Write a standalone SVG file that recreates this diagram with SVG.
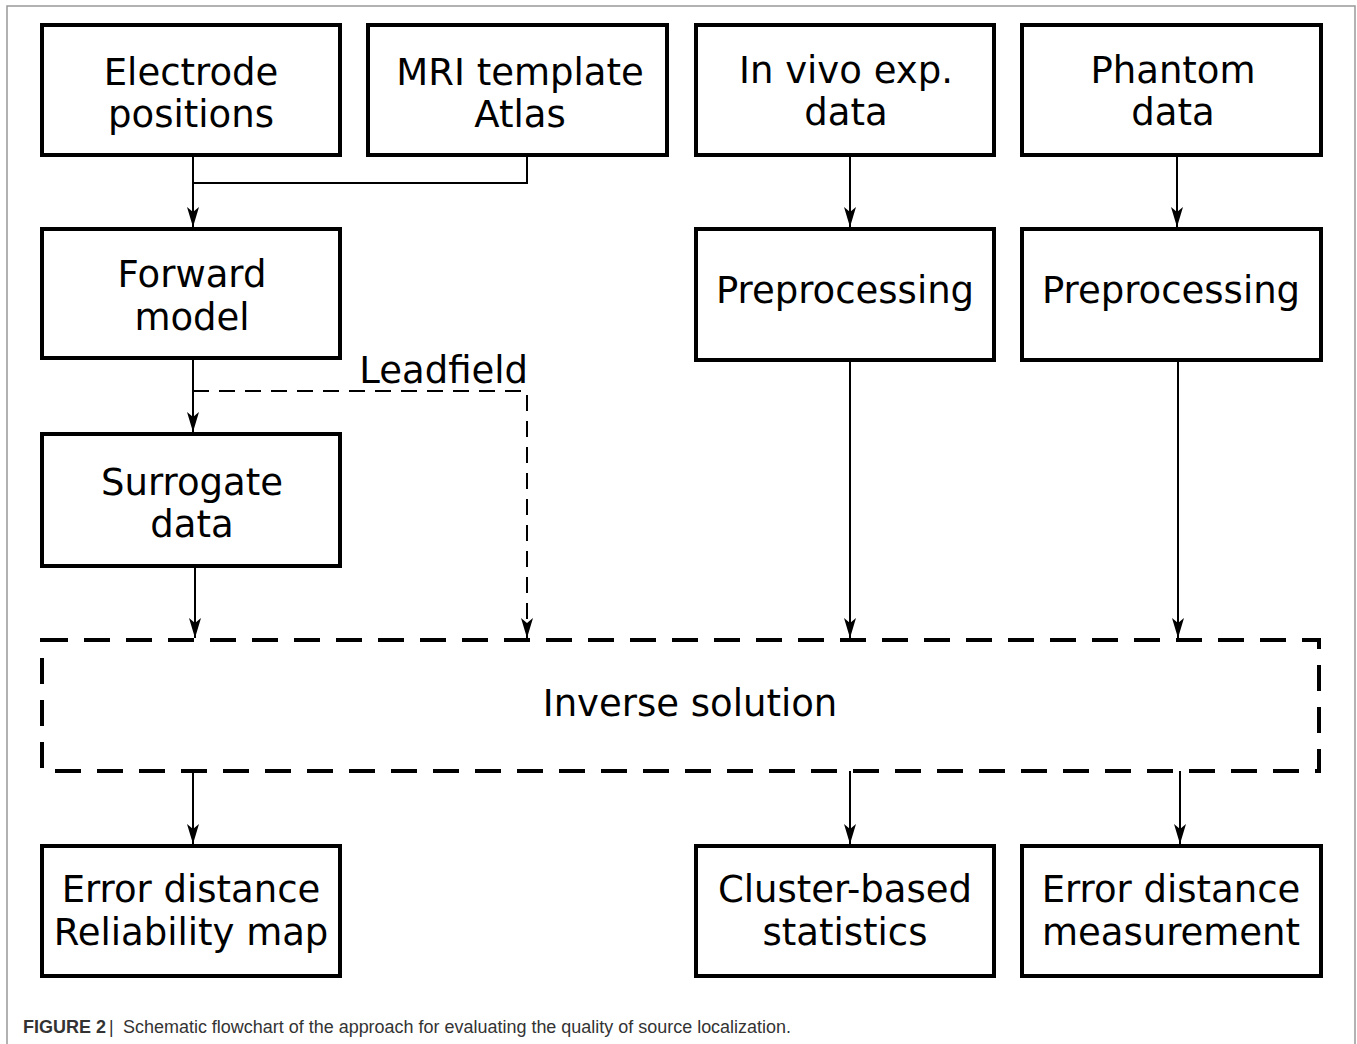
<svg xmlns="http://www.w3.org/2000/svg" width="1357" height="1044" viewBox="0 0 1357 1044">
<style>
.box{fill:#fff;stroke:#000;stroke-width:4}
.t{font-family:"DejaVu Sans",sans-serif;font-size:37px;fill:#000;text-anchor:middle}
.c{fill:none;stroke:#000;stroke-width:2}
.d{fill:none;stroke:#000;stroke-width:2;stroke-dasharray:16 10}
.inv{fill:none;stroke:#000;stroke-width:4;stroke-dasharray:26 16}
.cap{font-family:"Liberation Sans",Arial,sans-serif;font-size:17.5px;fill:#333}
</style>
<defs>
<marker id="ah" viewBox="-21 -7 22 14" markerWidth="22" markerHeight="14" refX="0" refY="0" orient="auto" markerUnits="userSpaceOnUse">
<path d="M0,0 L-20,-6 L-15,0 L-20,6 Z" fill="#000"/>
</marker>
</defs>
<rect x="0" y="0" width="1357" height="1044" fill="#fff"/>
<path d="M7,1044 V6 H1355 V1044" fill="none" stroke="#999" stroke-width="1.5"/>

<g id="connectors">
<path class="c" d="M193,155 V227" marker-end="url(#ah)"/>
<path class="c" d="M527,155 V183 H193"/>
<path class="c" d="M193,358 V432" marker-end="url(#ah)"/>
<path class="d" d="M193,391 H527 V638" marker-end="url(#ah)"/>
<path class="c" d="M195,566 V638" marker-end="url(#ah)"/>
<path class="c" d="M850,155 V227" marker-end="url(#ah)"/>
<path class="c" d="M1177,155 V227" marker-end="url(#ah)"/>
<path class="c" d="M850,360 V638" marker-end="url(#ah)"/>
<path class="c" d="M1178,360 V638" marker-end="url(#ah)"/>
<path class="c" d="M193,771 V844" marker-end="url(#ah)"/>
<path class="c" d="M850,771 V844" marker-end="url(#ah)"/>
<path class="c" d="M1180,771 V844" marker-end="url(#ah)"/>
<text class="t" x="528" y="383" style="text-anchor:end">Leadfield</text>
</g>

<g id="electrode"><rect class="box" x="42" y="25" width="298" height="130"/><text class="t" x="191" y="85">Electrode</text><text class="t" x="191" y="127">positions</text></g>
<g id="mri"><rect class="box" x="368" y="25" width="299" height="130"/><text class="t" x="520" y="85">MRI template</text><text class="t" x="520" y="127">Atlas</text></g>
<g id="invivo"><rect class="box" x="696" y="25" width="298" height="130"/><text class="t" x="846" y="83">In vivo exp.</text><text class="t" x="846" y="125">data</text></g>
<g id="phantom"><rect class="box" x="1022" y="25" width="299" height="130"/><text class="t" x="1173" y="83">Phantom</text><text class="t" x="1173" y="125">data</text></g>
<g id="forward"><rect class="box" x="42" y="229" width="298" height="129"/><text class="t" x="192" y="287">Forward</text><text class="t" x="192" y="330">model</text></g>
<g id="prep1"><rect class="box" x="696" y="229" width="298" height="131"/><text class="t" x="845" y="303">Preprocessing</text></g>
<g id="prep2"><rect class="box" x="1022" y="229" width="299" height="131"/><text class="t" x="1171" y="303">Preprocessing</text></g>
<g id="surrogate"><rect class="box" x="42" y="434" width="298" height="132"/><text class="t" x="192" y="495">Surrogate</text><text class="t" x="192" y="537">data</text></g>
<g id="inverse"><rect class="inv" x="42" y="640" width="1277" height="131"/><text class="t" x="690" y="716">Inverse solution</text></g>
<g id="errrel"><rect class="box" x="42" y="846" width="298" height="130"/><text class="t" x="191" y="902">Error distance</text><text class="t" x="191" y="945">Reliability map</text></g>
<g id="cluster"><rect class="box" x="696" y="846" width="298" height="130"/><text class="t" x="845" y="902">Cluster-based</text><text class="t" x="845" y="945">statistics</text></g>
<g id="errmeas"><rect class="box" x="1022" y="846" width="299" height="130"/><text class="t" x="1171" y="902">Error distance</text><text class="t" x="1171" y="945">measurement</text></g>

<g id="caption">
<text class="cap" x="23" y="1033" font-weight="bold" fill="#000" textLength="83" lengthAdjust="spacingAndGlyphs">FIGURE 2</text>
<text class="cap" x="109" y="1033" fill="#000">|</text>
<text class="cap" x="123" y="1033" textLength="668" lengthAdjust="spacingAndGlyphs">Schematic flowchart of the approach for evaluating the quality of source localization.</text>
</g>
</svg>
